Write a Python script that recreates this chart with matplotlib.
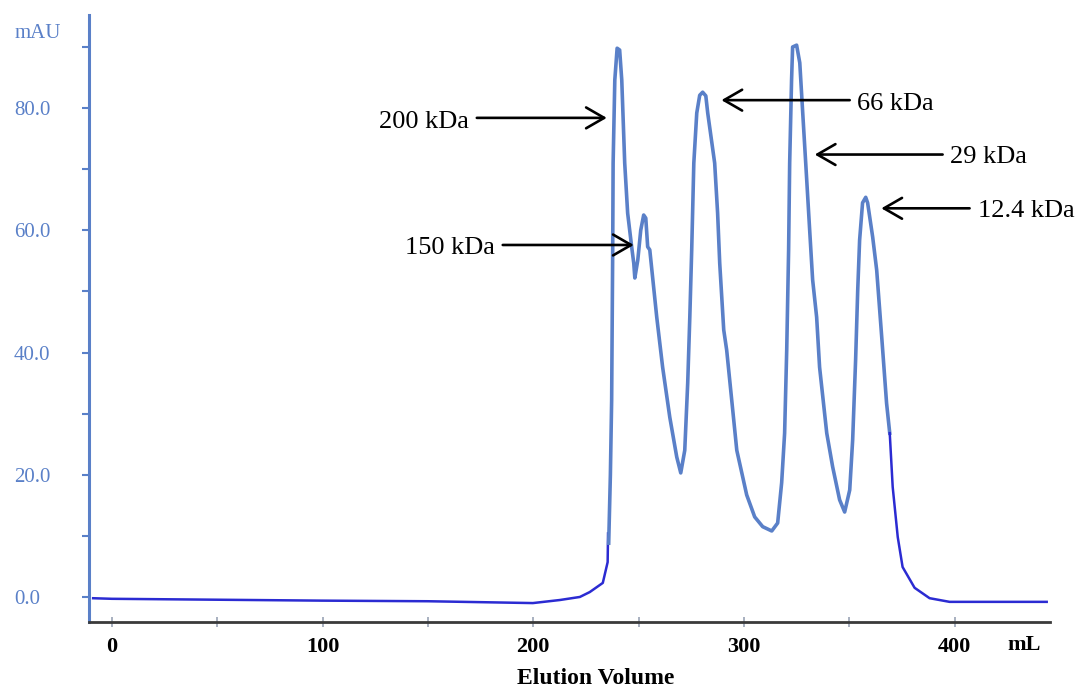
import matplotlib.pyplot as plt
from matplotlib.ticker import MultipleLocator, FixedLocator

plt.rcParams['font.family'] = ['Liberation Serif', 'DejaVu Serif']

# elution volume (mL) / absorbance (mAU)
base_vol = [-9.5, 0, 99.6, 150, 199.8, 212.6, 222.1, 226.8, 233.0, 235.3, 235.5]
base_mau = [-0.2, -0.3, -0.6, -0.7, -1.0, -0.5, 0.0, 0.8, 2.3, 5.7, 10.6]

peak_vol = [235.8, 236.6, 237.2, 237.7, 237.9, 238.7, 239.8, 241.0, 242.0, 243.4, 244.8,
            246.7, 247.7, 248.2, 249.6, 251.0, 252.4, 253.4, 254.3, 255.3, 258.6, 261.4,
            264.8, 268.1, 270.0, 271.9, 273.3, 274.3, 275.2, 276.2, 277.6, 279.0, 280.4,
            281.9, 282.8, 286.1, 287.5, 288.5, 290.4, 291.8, 294.2, 296.6, 301.3, 305.1,
            308.9, 313.2, 316.0, 317.9, 319.3, 320.3, 321.2, 321.7, 322.6, 323.1, 325.0,
            326.5, 327.9, 329.8, 331.2, 332.6, 334.5, 335.9, 339.3, 342.1, 345.4, 347.8,
            350.2, 351.6, 353.0, 354.0, 354.9, 356.3, 357.8, 358.7, 361.1, 363.0, 365.4,
            367.7, 369.2]
peak_mau = [8.8, 20.0, 32.2, 56.8, 71.0, 84.6, 89.8, 89.5, 84.6, 71.0, 62.8,
            57.3, 54.6, 52.2, 55.1, 60.0, 62.5, 62.0, 57.3, 56.8, 45.8, 37.6,
            29.4, 22.9, 20.3, 24.0, 35.0, 45.8, 56.8, 71.0, 79.2, 82.1, 82.6,
            82.0, 79.2, 71.0, 62.8, 54.6, 43.7, 40.4, 32.2, 24.0, 16.7, 13.1,
            11.5, 10.8, 12.1, 18.7, 26.8, 40.4, 56.8, 71.0, 84.6, 90.0, 90.3,
            87.4, 79.2, 68.2, 60.0, 51.9, 45.8, 37.6, 26.8, 21.3, 15.9, 13.9,
            17.5, 25.7, 38.8, 50.2, 58.4, 64.5, 65.4, 64.5, 58.9, 53.5, 42.5,
            31.7, 26.8]

tail_vol = [369.2, 370.6, 373.0, 375.3, 381.0, 388.1, 397.6, 443.7]
tail_mau = [26.8, 18.0, 9.8, 4.9, 1.5, -0.2, -0.8, -0.8]

labels = ['200 kDa', '150 kDa', '66 kDa', '29 kDa', '12.4 kDa']
arrow_head = [(234.9, 78.4), (247.7, 57.6), (289.3, 81.3), (333.6, 72.4), (365.2, 63.6)]
arrow_tail = [(173.2, 78.4), (185.5, 57.6), (350.2, 81.3), (394.3, 72.4), (407.1, 63.6)]
label_pos = [(169.4, 77.7), (181.7, 57.1), (353.5, 80.7), (398.0, 72.0), (410.9, 63.2)]
label_ha = ['right', 'right', 'left', 'left', 'left']

axis_blue = '#5a80c8'
dark_blue = '#2b2bd2'

fig = plt.figure(figsize=(10.77, 6.88), dpi=100)
ax = fig.add_axes([0.0826, 0.0959, 0.892, 0.882])

ax.plot(base_vol, base_mau, color=dark_blue, lw=1.8, solid_capstyle='butt')
ax.plot(peak_vol, peak_mau, color=axis_blue, lw=2.6, solid_joinstyle='round')
ax.plot(tail_vol, tail_mau, color=dark_blue, lw=1.8)

for lab, head, tail, pos, ha in zip(labels, arrow_head, arrow_tail, label_pos, label_ha):
    ax.annotate('', xy=head, xytext=tail,
                arrowprops=dict(arrowstyle='->,head_length=1.3,head_width=0.75',
                                lw=1.9, color='black', shrinkA=0, shrinkB=0))
    ax.text(pos[0], pos[1], lab, ha=ha, va='center', fontsize=19, color='black')

ax.set_xlim(-10.9, 445.1)
ax.set_ylim(-4.1, 95.2)

for s in ['top', 'right']:
    ax.spines[s].set_visible(False)
ax.spines['left'].set_color(axis_blue)
ax.spines['left'].set_linewidth(2.2)
ax.spines['bottom'].set_color('#3a3a3a')
ax.spines['bottom'].set_linewidth(2.0)

ax.yaxis.set_major_locator(FixedLocator([0, 20, 40, 60, 80]))
ax.yaxis.set_minor_locator(FixedLocator([10, 30, 50, 70, 90]))
ax.set_yticklabels(['0.0', '20.0', '40.0', '60.0', '80.0'])
ax.tick_params(axis='y', which='both', direction='out', length=5, width=1.5,
               color=axis_blue, labelcolor=axis_blue, labelsize=15, pad=49)
for t in ax.get_yticklabels():
    t.set_horizontalalignment('left')

ax.xaxis.set_major_locator(MultipleLocator(100))
ax.xaxis.set_minor_locator(MultipleLocator(50))
ax.tick_params(axis='x', which='both', direction='inout', length=7, width=1.2,
               color='#9aa3b5', labelsize=16, pad=7)
for t in ax.get_xticklabels():
    t.set_fontweight('bold')
ax.get_xticklines()[0].set_color('#e0609a')

fig.text(15 / 1077, 1 - 33 / 688, 'mAU', ha='left', va='center', fontsize=15, color=axis_blue)
fig.text(1024 / 1077, 1 - 645 / 688, 'mL', ha='center', va='center', fontsize=16, fontweight='bold')
fig.text(596 / 1077, 1 - 678 / 688, 'Elution Volume', ha='center', va='center', fontsize=17, fontweight='bold')

fig.savefig('out.png', dpi=100, facecolor='white')
